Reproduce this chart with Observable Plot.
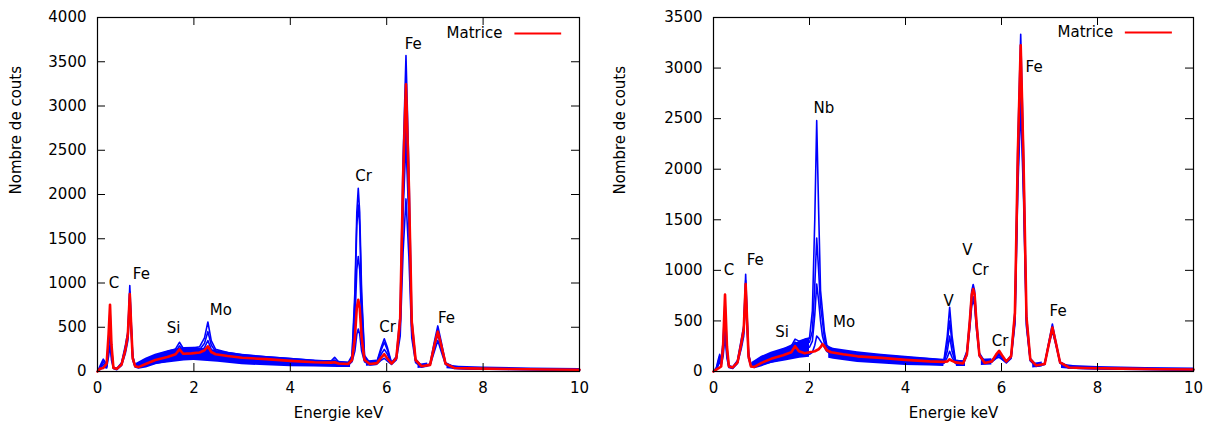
<!DOCTYPE html>
<html><head><meta charset="utf-8">
<script src="https://cdn.jsdelivr.net/npm/d3@7"></script>
<script src="https://cdn.jsdelivr.net/npm/@observablehq/plot@0.6"></script>
<style>
body{margin:0;background:#fff;}
#wrap{position:relative;width:1209px;height:426px;overflow:hidden;}
#left,#right{position:absolute;top:0;}
#left{left:0}#right{left:604px}
</style></head><body><div id="wrap"><div id="left"></div><div id="right"></div></div>
<script>
// ---------- Data: left panel ----------
const energyL = [0,0.05,0.12,0.19,0.23,0.26,0.29,0.33,0.4,0.5,
 0.58,0.63,0.67,0.7,0.73,0.78,0.85,1.0,1.2,1.45,
 1.62,1.7,1.78,1.95,2.12,2.22,2.29,2.36,2.45,2.7,
 3.0,3.5,4.0,4.5,4.85,4.92,5.0,5.2,5.28,5.34,
 5.38,5.41,5.44,5.48,5.54,5.65,5.8,5.89,5.95,6.01,
 6.1,6.2,6.28,6.34,6.4,6.46,6.52,6.6,6.72,6.9,
 6.99,7.06,7.13,7.22,7.4,7.7,8.5,9.3,10];
const matriceL = [0,30,40,90,420,755,300,40,30,80,
 250,420,875,500,150,60,50,85,130,165,
 195,250,200,205,215,240,285,220,195,175,
 155,140,120,105,100,105,90,85,130,380,
 720,810,720,380,130,85,95,160,195,150,
 90,150,600,2200,3245,2100,560,130,60,75,
 300,450,300,90,40,35,28,22,20];
const blueL1 = [0,60,140,80,380,700,280,50,35,100,
 300,450,970,560,180,70,70,130,180,225,
 255,330,260,265,280,380,560,350,250,215,
 190,165,145,125,120,160,110,100,180,900,
 1800,2070,1800,900,180,100,120,280,370,280,
 100,170,650,2400,3570,2300,600,140,65,85,
 340,515,340,100,50,40,30,25,20];
const blueL2 = [0,40,110,60,320,600,240,45,30,90,
 270,420,900,520,170,65,60,100,150,190,
 220,290,230,235,245,320,450,300,225,190,
 170,150,130,115,110,130,100,95,160,800,
 1650,1880,1650,800,160,95,110,250,330,250,
 95,160,550,1950,2820,1850,500,130,60,80,
 310,470,310,95,45,35,28,22,18];
const blueL3 = [0,30,80,50,250,450,180,40,25,80,
 240,390,820,480,150,60,50,75,120,155,
 185,260,195,200,210,270,350,250,195,165,
 145,130,110,95,90,110,85,80,140,560,
 1150,1300,1150,560,140,85,100,200,250,200,
 90,150,500,1800,2600,1700,450,120,55,75,
 280,420,280,85,40,32,25,20,16];
const blueL4 = [0,20,50,40,170,300,130,35,20,70,
 210,350,750,440,130,50,40,55,90,120,
 150,220,160,165,175,220,260,200,165,140,
 120,110,90,80,75,100,70,70,110,230,
 420,480,420,230,110,75,85,130,150,120,
 80,130,400,1350,1950,1300,380,100,50,70,
 230,350,230,80,35,30,22,18,14];
const bandEL  = [0.8,1.0,1.2,1.5,1.8,2.0,2.5,3.0,3.5,4.0,4.5,5.0,5.25,5.3,5.58,5.8,5.85,6.65,6.85,6.9,7.25,7.5,8,9,10];
const bandLoL = [40,50,80,100,120,125,105,75,65,55,50,45,45,null,60,65,null,35,45,null,30,20,15,10,8];
const bandHiL = [90,150,195,240,270,275,235,195,170,150,130,115,105,null,120,130,null,80,95,null,75,60,50,40,35];
const labTextL = ["C","Fe","Si","Mo","Cr","Cr","Fe","Fe"];
const labEL = [0.34,0.91,1.58,2.56,5.52,6.02,6.55,7.24];
const labCL = [994,1096,489,697,2203,497,3695,599];
const yTicksL = [0,500,1000,1500,2000,2500,3000,3500,4000];

// ---------- Data: right panel ----------
const energyR = [0,0.06,0.1,0.13,0.16,0.2,0.24,0.28,0.32,0.4,
 0.5,0.58,0.63,0.67,0.7,0.73,0.78,0.85,1.0,1.2,
 1.45,1.62,1.7,1.78,1.9,2.0,2.06,2.11,2.15,2.19,
 2.23,2.27,2.31,2.36,2.45,2.7,3.0,3.5,4.0,4.5,
 4.8,4.87,4.92,4.97,5.04,5.2,5.28,5.34,5.38,5.41,
 5.44,5.48,5.54,5.65,5.8,5.89,5.95,6.01,6.1,6.2,
 6.28,6.34,6.4,6.46,6.52,6.6,6.72,6.9,6.99,7.06,
 7.13,7.22,7.4,7.7,8.5,9.3,10];
const matriceR = [0,20,30,40,50,250,760,250,50,40,
 90,280,420,865,500,150,50,45,85,125,
 160,190,250,200,180,190,195,200,210,220,
 240,270,250,210,190,170,150,135,115,100,
 95,100,120,105,90,80,170,500,760,815,
 760,470,160,85,100,170,205,160,100,150,
 580,2150,3225,2050,540,120,60,75,280,435,
 290,90,40,35,28,22,20];
const blueR1 = [0,40,120,170,100,300,700,240,60,45,
 110,320,450,960,560,180,70,70,130,175,
 220,250,320,300,320,330,600,1500,2480,1600,
 800,600,400,260,220,200,180,160,140,125,
 110,350,635,350,110,100,200,520,800,860,
 800,500,180,100,110,160,180,150,100,160,
 600,2250,3335,2150,560,130,65,80,300,470,
 300,95,50,40,30,25,20];
const blueR2 = [0,30,100,150,80,260,600,200,50,40,
 100,290,420,900,520,170,65,60,100,150,
 190,220,290,270,280,290,400,850,1320,1000,
 650,500,330,240,205,185,165,145,125,110,
 100,280,500,280,100,90,190,490,750,800,
 750,470,170,95,105,150,170,140,95,150,
 560,2100,3100,2000,520,120,60,75,290,440,
 290,90,45,35,28,22,18];
const blueR3 = [0,25,80,120,70,200,500,170,45,35,
 90,260,390,820,480,150,60,50,80,120,
 160,190,260,230,230,240,300,560,865,700,
 500,350,280,220,190,165,145,125,105,95,
 90,200,350,200,90,80,175,460,690,740,
 690,440,160,90,100,140,160,130,90,140,
 500,1900,2800,1800,470,110,55,72,280,420,
 280,85,40,32,25,20,16];
const blueR4 = [0,20,60,100,60,150,350,130,40,30,
 80,230,350,750,440,130,50,40,60,95,
 125,155,220,170,160,170,190,260,350,330,
 300,270,240,200,170,145,125,105,90,80,
 80,140,200,140,80,70,160,430,650,700,
 650,410,150,85,95,130,140,120,85,130,
 470,1800,2630,1700,440,105,50,70,270,400,
 270,80,35,30,22,18,14];
const bandER  = [0.8,1.0,1.2,1.5,1.8,2.0,2.05,2.4,2.5,3.0,3.5,4.0,4.5,4.8,4.82,5.06,5.25,5.3,5.58,5.8,5.85,6.65,6.85,6.9,7.25,7.5,8,9,10];
const bandLoR = [40,55,80,105,130,140,null,130,120,90,75,60,55,50,null,50,50,null,60,65,null,35,45,null,30,20,15,10,8];
const bandHiR = [90,150,190,235,300,330,null,250,230,195,170,150,130,120,null,110,105,null,120,125,null,80,95,null,75,60,50,40,35];
const labTextR = ["C","Fe","Si","Nb","Mo","V","V","Cr","Cr","Fe","Fe"];
const labER = [0.32,0.87,1.43,2.30,2.72,4.90,5.29,5.56,5.97,6.68,7.18];
const labCR = [997,1096,393,2599,485,700,1195,997,297,3005,601];
const yTicksR = [0,500,1000,1500,2000,2500,3000,3500];

const xTicks = [0,2,4,6,8,10];
const legendLabel = "Matrice";
const xLabel = "Energie keV";
const yLabel = "Nombre de couts";

function panel(o) {
  const H = 426, mt = 17, mb = 55, fs = 15;
  const innerH = H - mt - mb, innerW = o.width - o.ml - o.mr;
  const red = o.energy.map((e, i) => ({e, c: o.matrice[i]}));
  const blueRows = o.blues.flatMap((arr, k) => o.energy.map((e, i) => ({e, c: arr[i], s: k})));
  const band = o.bandE.map((e, i) => ({e, lo: o.bandLo[i] == null ? NaN : o.bandLo[i], hi: o.bandHi[i] == null ? NaN : o.bandHi[i]}));
  const labels = o.labText.map((t, i) => ({t, e: o.labE[i], c: o.labC[i]}));
  const tl = 8;
  return Plot.plot({
    width: o.width, height: H,
    marginLeft: o.ml, marginRight: o.mr, marginTop: mt, marginBottom: mb,
    style: {fontFamily: "DejaVu Sans", fontSize: fs + "px", color: "#000", background: "#fff"},
    x: {domain: [0, 10]},
    y: {domain: [0, o.yMax]},
    marks: [
      Plot.areaY(band, {x: "e", y1: "lo", y2: "hi", fill: "#0000ff", curve: "linear"}),
      Plot.line(blueRows, {x: "e", y: "c", z: "s", stroke: "#0000ff", strokeWidth: 1.6}),
      Plot.line(red, {x: "e", y: "c", stroke: "#ff0000", strokeWidth: 2.6}),
      Plot.text(labels, {x: "e", y: "c", text: "t", fontSize: fs, lineAnchor: "middle", fill: "#000"}),
      Plot.ruleX(xTicks, {insetTop: innerH - tl, stroke: "#000"}),
      Plot.ruleX(xTicks, {insetBottom: innerH - tl, stroke: "#000"}),
      Plot.ruleY(o.yTicks, {insetRight: innerW - tl, stroke: "#000"}),
      Plot.ruleY(o.yTicks, {insetLeft: innerW - tl, stroke: "#000"}),
      Plot.frame({stroke: "#000", strokeWidth: 1.2}),
      Plot.axisX({ticks: xTicks, tickSize: 0, tickPadding: 11, label: null, fontSize: fs, tickFormat: d => String(d)}),
      Plot.axisY({ticks: o.yTicks, tickSize: 0, tickPadding: 11, label: null, fontSize: fs, tickFormat: d => String(d)}),
      Plot.text([xLabel], {text: d => d, frameAnchor: "bottom", dy: 42, lineAnchor: "middle", fontSize: fs}),
      Plot.text([yLabel], {text: d => d, frameAnchor: "left", dx: -(o.ml - 16), rotate: -90, lineAnchor: "middle", fontSize: fs}),
      Plot.text([legendLabel], {text: d => d, x: o.legE, y: o.legC, textAnchor: "end", lineAnchor: "middle", fontSize: fs}),
      Plot.ruleY([o.legC], {x1: o.legX1, x2: o.legX2, stroke: "#ff0000", strokeWidth: 2})
    ]
  });
}

document.getElementById("left").append(panel({
  width: 604, ml: 97, mr: 25, yMax: 4000, yTicks: yTicksL,
  energy: energyL, matrice: matriceL, blues: [blueL4, blueL3, blueL2, blueL1],
  bandE: bandEL, bandLo: bandLoL, bandHi: bandHiL,
  labText: labTextL, labE: labEL, labC: labCL,
  legE: 8.40, legC: 3819, legX1: 8.66, legX2: 9.63
}));
document.getElementById("right").append(panel({
  width: 605, ml: 109, mr: 16, yMax: 3500, yTicks: yTicksR,
  energy: energyR, matrice: matriceR, blues: [blueR4, blueR3, blueR2, blueR1],
  bandE: bandER, bandLo: bandLoR, bandHi: bandHiR,
  labText: labTextR, labE: labER, labC: labCR,
  legE: 8.33, legC: 3352, legX1: 8.58, legX2: 9.56
}));
</script>
</body></html>
